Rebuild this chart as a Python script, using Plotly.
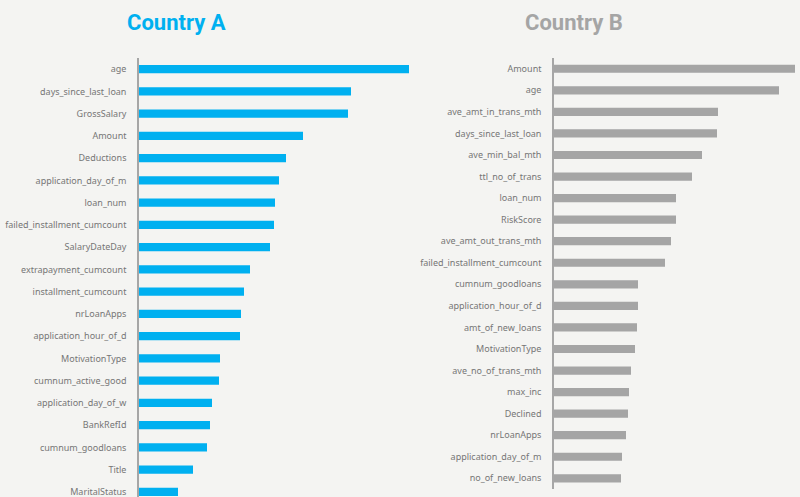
import plotly.graph_objects as go

# Country A feature importance (relative)
cat_a = ["age", "days_since_last_loan", "GrossSalary", "Amount", "Deductions",
         "application_day_of_m", "loan_num", "failed_installment_cumcount",
         "SalaryDateDay", "extrapayment_cumcount", "installment_cumcount",
         "nrLoanApps", "application_hour_of_d", "MotivationType",
         "cumnum_active_good", "application_day_of_w", "BankRefId",
         "cumnum_goodloans", "Title", "MaritalStatus"]
val_a = [270, 212, 209, 164, 147, 140, 136, 135, 131, 111, 105, 102, 101,
         81, 80, 73, 71, 68, 54, 39]

# Country B feature importance
cat_b = ["Amount", "age", "ave_amt_in_trans_mth", "days_since_last_loan",
         "ave_min_bal_mth", "ttl_no_of_trans", "loan_num", "RiskScore",
         "ave_amt_out_trans_mth", "failed_installment_cumcount",
         "cumnum_goodloans", "application_hour_of_d", "amt_of_new_loans",
         "MotivationType", "ave_no_of_trans_mth", "max_inc", "Declined",
         "nrLoanApps", "application_day_of_m", "no_of_new_loans"]
val_b = [241, 225, 164, 163, 148, 138, 122, 122, 117, 111, 84, 84, 83, 81,
         77, 75, 74, 72, 68, 67]

BG = "#f4f4f2"
BLUE = "#00b0f0"
GRAY = "#a5a5a5"
LABEL = "#767676"
FONT = "Noto Sans, Open Sans, sans-serif"
TITLE_FONT = "Roboto, Noto Sans, sans-serif"

fig = go.Figure()
fig.add_trace(go.Bar(y=cat_a, x=val_a, orientation="h", marker_color=BLUE,
                     marker_line_width=0, xaxis="x", yaxis="y", width=0.38))
fig.add_trace(go.Bar(y=cat_b, x=val_b, orientation="h", marker_color=GRAY,
                     marker_line_width=0, xaxis="x2", yaxis="y2", width=0.38))

axis_common = dict(showgrid=False, zeroline=False, showticklabels=False,
                   fixedrange=True)
yaxis_common = dict(showgrid=False, zeroline=False, showline=True,
                    linecolor="#a6a6a6", linewidth=1.5, ticks="",
                    tickfont=dict(family=FONT, size=9, color=LABEL),
                    ticklabelstandoff=9, automargin=False, type="category",
                    fixedrange=True)

fig.update_layout(
    width=800, height=497,
    paper_bgcolor=BG, plot_bgcolor=BG,
    margin=dict(l=0, r=0, t=58, b=0),
    showlegend=False,
    bargap=0.62,
    xaxis=dict(domain=[139/800, 420/800], range=[0, 281], anchor="y",
               **axis_common),
    yaxis=dict(domain=[0, 1], range=[19.23, -0.5], anchor="x", **yaxis_common),
    xaxis2=dict(domain=[554/800, 1.0], range=[0, 246], anchor="y2",
                **axis_common),
    yaxis2=dict(domain=[0.018, 1], range=[19.5, -0.5], anchor="x2",
                **yaxis_common),
    annotations=[
        dict(text="<b>Country A</b>", x=176/800, y=1.082, xref="paper",
             yref="paper", showarrow=False, xanchor="center", yanchor="middle",
             font=dict(family=TITLE_FONT, size=22, color=BLUE)),
        dict(text="<b>Country B</b>", x=574/800, y=1.082, xref="paper",
             yref="paper", showarrow=False, xanchor="center", yanchor="middle",
             font=dict(family=TITLE_FONT, size=22, color=GRAY)),
    ],
)

fig.write_html("out.html", config={"displayModeBar": False},
               post_script="document.body.style.margin='0';document.body.style.background='" + BG + "';")
